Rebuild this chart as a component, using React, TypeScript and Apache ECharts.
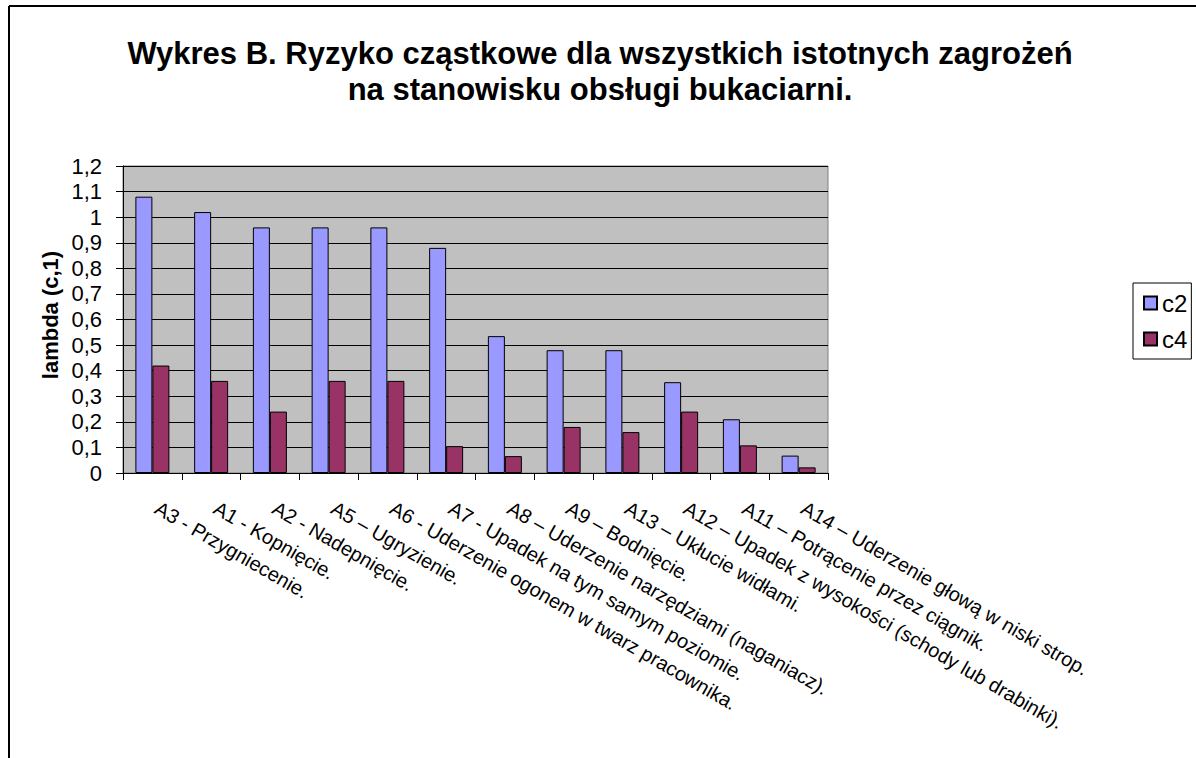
import React, { useEffect, useRef } from "react";
import * as echarts from "echarts";

const categories: string[] = [
  "A3 - Przygniecenie.",
  "A1 - Kopnięcie.",
  "A2 - Nadepnięcie.",
  "A5 – Ugryzienie.",
  "A6 - Uderzenie ogonem w twarz pracownika.",
  "A7 - Upadek na tym samym poziomie.",
  "A8 – Uderzenie narzędziami (naganiacz).",
  "A9 – Bodnięcie.",
  "A13 – Ukłucie widłami.",
  "A12 – Upadek z wysokości (schody lub drabinki).",
  "A11 – Potrącenie przez ciągnik.",
  "A14 – Uderzenie głową w niski strop.",
];
const c2Values: number[] = [1.08, 1.02, 0.96, 0.96, 0.96, 0.88, 0.535, 0.48, 0.48, 0.355, 0.21, 0.068];
const c4Values: number[] = [0.42, 0.36, 0.24, 0.36, 0.36, 0.105, 0.066, 0.18, 0.16, 0.24, 0.108, 0.022];
const seriesNames: string[] = ["c2", "c4"];
const titleLines: string[] = [
  "Wykres B. Ryzyko cząstkowe dla wszystkich istotnych zagrożeń",
  "na stanowisku obsługi bukaciarni.",
];
const yAxisTitle = "lambda (c,1)";
const yMin = 0;
const yMax = 1.2;
const yStep = 0.1;

const FONT = "'Liberation Sans', Arial, sans-serif";

export default function App() {
  const ref = useRef<HTMLDivElement>(null);
  useEffect(() => {
    if (!ref.current) return;
    const chart = echarts.init(ref.current, undefined, { renderer: "svg" });
    chart.setOption({
      animation: false,
      backgroundColor: "#ffffff",
      title: {
        text: titleLines.join("\n"),
        left: 600,
        top: 35,
        padding: 0,
        textAlign: "center",
        textStyle: {
          fontFamily: FONT,
          fontWeight: "bold",
          fontSize: 31,
          lineHeight: 36,
          color: "#000",
        },
      },
      legend: {
        orient: "vertical",
        left: 1133,
        top: 283,
        padding: [8, 4, 8, 10],
        borderColor: "#000",
        borderWidth: 1,
        itemWidth: 13,
        itemHeight: 13,
        itemGap: 12,
        icon: "rect",
        textStyle: { fontFamily: FONT, fontSize: 24, color: "#000" },
        data: seriesNames,
      },
      grid: {
        left: 123,
        top: 166,
        width: 705,
        height: 307,
        show: true,
        backgroundColor: "#C0C0C0",
        borderColor: "#808080",
        borderWidth: 1,
      },
      xAxis: {
        type: "category",
        data: categories,
        axisLine: { lineStyle: { color: "#000", width: 1 } },
        axisTick: { show: true, length: 7, alignWithLabel: false, lineStyle: { color: "#000" } },
        axisLabel: {
          interval: 0,
          rotate: -30,
          margin: 31,
          padding: [0, 0, 0, 5],
          fontFamily: FONT,
          fontSize: 20,
          color: "#000",
        },
        splitLine: { show: false },
      },
      yAxis: {
        type: "value",
        min: yMin,
        max: yMax,
        interval: yStep,
        axisLine: { show: true, lineStyle: { color: "#000", width: 1 } },
        axisTick: { show: true, length: 7, lineStyle: { color: "#000" } },
        axisLabel: {
          margin: 21,
          fontFamily: FONT,
          fontSize: 22,
          color: "#000",
          formatter: (v: number) => String(+v.toFixed(1)).replace(".", ","),
        },
        splitLine: { show: true, lineStyle: { color: "#000", width: 1 } },
      },
      series: [
        {
          name: seriesNames[0],
          type: "bar",
          data: c2Values,
          barWidth: 17,
          barGap: "0%",
          itemStyle: { color: "#9999FF", borderColor: "#000", borderWidth: 1 },
        },
        {
          name: seriesNames[1],
          type: "bar",
          data: c4Values,
          barWidth: 17,
          barGap: "0%",
          itemStyle: { color: "#993366", borderColor: "#000", borderWidth: 1 },
        },
      ],
      graphic: [
        {
          type: "text",
          x: 50,
          y: 315,
          rotation: Math.PI / 2,
          style: {
            text: yAxisTitle,
            fontFamily: FONT,
            fontWeight: "bold",
            fontSize: 22,
            fill: "#000",
            align: "center",
            verticalAlign: "middle",
          },
        },
        {
          type: "line",
          shape: { x1: 9, y1: 6, x2: 1196, y2: 6 },
          style: { stroke: "#000", lineWidth: 2 },
        },
        {
          type: "line",
          shape: { x1: 9, y1: 6, x2: 9, y2: 758 },
          style: { stroke: "#000", lineWidth: 2 },
        },
      ],
    });
    return () => chart.dispose();
  }, []);
  return (
    <div
      ref={ref}
      style={{ position: "fixed", left: 0, top: 0, width: 1196, height: 758 }}
    />
  );
}
